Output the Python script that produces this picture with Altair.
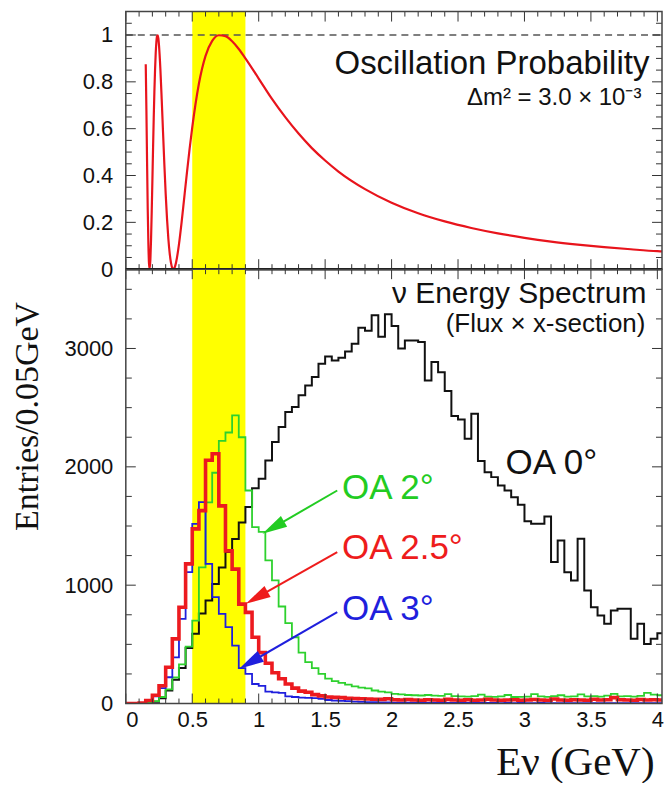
import math
import altair as alt
import pandas as pd

# ---------------- data ----------------
E_LO = [round(0.05 * i, 2) for i in range(81)]   # bin lower edges (GeV)
E_END = 4.05

OA0 = [0, 0, 0, 5, 15, 45, 110, 200, 300, 470,
       590, 760, 870, 1010, 1150, 1280, 1390, 1530, 1660, 1820,
       1899, 2054, 2209, 2336, 2463, 2505, 2604, 2688, 2759, 2871,
       2933, 2899, 2922, 2975, 3040, 3176, 3150, 3280, 3100, 3290,
       3190, 3000, 3068, 3068, 3054, 2730, 2885, 2800, 2640, 2430,
       2400, 2237, 2449, 2050, 1955, 1913, 1843, 1800, 1744, 1680,
       1540, 1519, 1519, 1581, 1195, 1378, 1110, 1040, 1392, 955,
       814, 744, 674, 786, 800, 800, 547, 674, 504, 547,
       594]
OA2 = [0, 0, 0, 5, 20, 55, 120, 220, 330, 480,
       700, 1150, 1700, 1950, 2220, 2290, 2434, 2250, 1800, 1490,
       1450, 1210, 1040, 820, 680, 560, 430, 350, 300, 250,
       210, 190, 175, 160, 145, 135, 128, 110, 100, 95,
       82, 78, 72, 70, 68, 72, 66, 64, 80, 62,
       60, 58, 62, 75, 58, 56, 60, 72, 55, 56,
       58, 80, 60, 56, 62, 70, 58, 60, 78, 60,
       62, 58, 66, 82, 60, 62, 58, 64, 90, 75,
       70]
OA25 = [0, 0, 5, 25, 70, 150, 307, 546, 814, 1180,
        1476, 1630, 2055, 2110, 1670, 1290, 1136, 840, 770, 560,
        430, 340, 260, 210, 165, 130, 105, 95, 75, 65,
        55, 52, 50, 45, 42, 40, 38, 36, 35, 40,
        32, 30, 34, 30, 28, 32, 30, 28, 35, 30,
        28, 32, 28, 30, 36, 30, 28, 30, 32, 28,
        30, 34, 30, 28, 38, 30, 28, 32, 30, 28,
        36, 30, 32, 50, 32, 30, 28, 34, 30, 32,
        30]
OA3 = [0, 0, 5, 20, 60, 130, 222, 390, 715, 1110,
       1518, 1701, 1180, 899, 758, 645, 490, 300, 250, 165,
       150, 100, 95, 90, 60, 55, 50, 48, 45, 40,
       30, 25, 22, 20, 16, 14, 12, 11, 10, 9,
       8, 8, 7, 8, 7, 6, 7, 6, 6, 5,
       6, 5, 5, 6, 5, 5, 4, 5, 4, 5,
       4, 4, 5, 4, 4, 3, 4, 4, 3, 4,
       3, 4, 3, 3, 4, 3, 3, 3, 4, 3,
       3]

OSC_E = [0.150, 0.155, 0.160, 0.165, 0.170, 0.175, 0.180, 0.185, 0.190, 0.195,
         0.200, 0.205, 0.210, 0.215, 0.220, 0.225, 0.230, 0.235, 0.240, 0.245,
         0.250, 0.260, 0.270, 0.280, 0.290, 0.300, 0.310, 0.320, 0.330, 0.340,
         0.350, 0.360, 0.370, 0.380, 0.400, 0.420, 0.440, 0.460, 0.480, 0.500,
         0.550, 0.600, 0.650, 0.700, 0.750, 0.800, 0.850, 0.900, 1.000, 1.100,
         1.200, 1.300, 1.400, 1.500, 1.600, 1.800, 2.000, 2.200, 2.400, 2.600,
         2.800, 3.000, 3.200, 3.400, 3.600, 3.800, 4.000, 4.035]
OSC_P = [0.875, 0.679, 0.457, 0.255, 0.104, 0.020, 0.002, 0.042, 0.129, 0.246,
         0.379, 0.515, 0.643, 0.757, 0.850, 0.922, 0.970, 0.995, 0.999, 0.985,
         0.954, 0.856, 0.727, 0.587, 0.448, 0.322, 0.216, 0.131, 0.069, 0.027,
         0.005, 0.000, 0.011, 0.034, 0.106, 0.201, 0.307, 0.412, 0.514, 0.606,
         0.792, 0.911, 0.975, 0.999, 0.995, 0.973, 0.940, 0.900, 0.814, 0.727,
         0.649, 0.579, 0.517, 0.464, 0.417, 0.342, 0.284, 0.239, 0.204, 0.176,
         0.153, 0.134, 0.118, 0.105, 0.094, 0.085, 0.077, 0.076]

BAND_LO = [0.5]
BAND_HI = [0.9]

X_MAJOR = [0, 0.5, 1, 1.5, 2, 2.5, 3, 3.5, 4]
X_MINOR = [round(0.1 * i, 1) for i in range(41) if i % 5]
YT_LABELS = [0, 0.2, 0.4, 0.6, 0.8, 1.0]
YT_MINOR = [round(0.05 * i, 2) for i in range(1, 22) if i % 4]
YB_LABELS = [0, 1000, 2000, 3000]
YB_MINOR = [250 * i for i in range(1, 15) if i % 4]

OA_TEXT = ["OA 0°", "OA 2°", "OA 2.5°", "OA 3°"]
OA_COLOR = ["#111111", "#22cc22", "#ee1c1c", "#1f1fdd"]
OA_TEXT_E = [2.858, 1.627, 1.627, 1.627]
OA_TEXT_C = [1942, 1730, 1223, 702]

ARROW_COLOR = ["#22cc22", "#ee1c1c", "#1f1fdd"]
ARROW_E0 = [1.591, 1.591, 1.591]
ARROW_C0 = [1800, 1279, 772]
ARROW_E1 = [1.028, 0.903, 0.853]
ARROW_C1 = [1434, 843, 293]

# ---------------- layout ----------------
W = 537
H_TOP = 258
H_BOT = 435
X_DOM = [0, 4.035]
YT_DOM = [0, 1.1]
YB_DOM = [0, 3670]
SANS = "Liberation Sans"
SERIF = "Liberation Serif"
TICK_C = "#333333"
LBL = 22

xs = alt.Scale(domain=X_DOM, nice=False, zero=False)
yts = alt.Scale(domain=YT_DOM, nice=False, zero=False)
ybs = alt.Scale(domain=YB_DOM, nice=False, zero=False)
dummy = pd.DataFrame({"a": [0]})

yaxis_t = alt.Axis(values=YT_LABELS, format="~g", tickSize=0, domain=False, grid=False,
                   labelPadding=13, labelFontSize=LBL, labelFont=SANS, labelColor="#111111", title=None)
xaxis_b = alt.Axis(values=X_MAJOR, format="~g", tickSize=0, domain=False, grid=False, labelPadding=6,
                   labelFontSize=LBL, labelFont=SANS, labelColor="#111111",
                   title="Eν (GeV)", titleFont=SERIF, titleFontSize=41, titleFontWeight="normal",
                   titleColor="#111111", titleX=529, titleY=71, titleAlign="right", titleBaseline="alphabetic")
yaxis_b = alt.Axis(values=YB_LABELS, format="d", tickSize=0, domain=False, grid=False, labelPadding=13,
                   labelFontSize=LBL, labelFont=SANS, labelColor="#111111",
                   title="Entries/0.05GeV", titleFont=SERIF, titleFontSize=34, titleFontWeight="normal",
                   titleColor="#111111", titleX=-98, titleY=147, titleAngle=270, titleAlign="center",
                   titleBaseline="middle")


def X(field, xaxis):
    return alt.X(field, scale=xs, axis=xaxis)


def tick_layers(yvals_major, yvals_minor, yscale, yaxis, xaxis, hpx):
    layers = []
    for vals, ln in [(X_MAJOR, 10), (X_MINOR, 5)]:
        base = alt.Chart(pd.DataFrame({"v": vals})).mark_rule(color=TICK_C, strokeWidth=1)
        layers.append(base.encode(x=X("v:Q", xaxis), y=alt.value(0), y2=alt.value(ln)))
        layers.append(base.encode(x=X("v:Q", xaxis), y=alt.value(hpx), y2=alt.value(hpx - ln)))
    for vals, ln in [(yvals_major, 10), (yvals_minor, 6)]:
        base = alt.Chart(pd.DataFrame({"v": vals})).mark_rule(color=TICK_C, strokeWidth=1)
        layers.append(base.encode(y=alt.Y("v:Q", scale=yscale, axis=yaxis), x=alt.value(0), x2=alt.value(ln)))
        layers.append(base.encode(y=alt.Y("v:Q", scale=yscale, axis=yaxis), x=alt.value(W), x2=alt.value(W - ln)))
    return layers


def band(hpx, xaxis):
    return alt.Chart(pd.DataFrame({"lo": BAND_LO, "hi": BAND_HI})).mark_rect(color="#ffff00").encode(
        x=X("lo:Q", xaxis), x2="hi:Q", y=alt.value(0), y2=alt.value(hpx))


def frame(hpx):
    return alt.Chart(dummy).mark_rect(fillOpacity=0, stroke="#444444", strokeWidth=1.5).encode(
        x=alt.value(0), x2=alt.value(W), y=alt.value(0), y2=alt.value(hpx))


# ---------------- top panel ----------------
osc_df = pd.DataFrame({"E": OSC_E, "P": OSC_P})
osc = alt.Chart(osc_df).mark_line(color="#e8141c", strokeWidth=2.2, interpolate="monotone", clip=True).encode(
    x=X("E:Q", None), y=alt.Y("P:Q", scale=yts, axis=yaxis_t))
dashed = alt.Chart(pd.DataFrame({"p": [1.0]})).mark_rule(color="#555555", strokeWidth=1.3, strokeDash=[7, 5]).encode(
    y=alt.Y("p:Q", scale=yts, axis=yaxis_t), x=alt.value(0), x2=alt.value(W))

top_txt1 = alt.Chart(pd.DataFrame({"t": ["Oscillation Probability"], "E": [3.94], "P": [0.835]})).mark_text(
    align="right", baseline="alphabetic", font=SANS, fontSize=33, color="#111111").encode(
    x=X("E:Q", None), y=alt.Y("P:Q", scale=yts, axis=yaxis_t), text="t:N")
top_txt2 = alt.Chart(pd.DataFrame({"t": ["Δm² = 3.0 × 10⁻³"], "E": [3.88], "P": [0.703]})).mark_text(
    align="right", baseline="alphabetic", font=SANS, fontSize=24, color="#111111").encode(
    x=X("E:Q", None), y=alt.Y("P:Q", scale=yts, axis=yaxis_t), text="t:N")

thick = alt.Chart(dummy).mark_rule(color="black", strokeWidth=2.5).encode(
    x=alt.value(0), x2=alt.value(W), y=alt.value(H_TOP))

top = alt.layer(band(H_TOP, None), dashed, osc, top_txt1, top_txt2,
                *tick_layers(YT_LABELS, YT_MINOR, yts, yaxis_t, None, H_TOP),
                frame(H_TOP), thick).properties(width=W, height=H_TOP)


# ---------------- bottom panel ----------------
def hist_df(vals):
    return pd.DataFrame({"E": E_LO + [E_END], "N": vals + [vals[-1]]})


def YB(field):
    return alt.Y(field, scale=ybs, axis=yaxis_b)


def hist(vals, color, sw):
    return alt.Chart(hist_df(vals)).mark_line(color=color, strokeWidth=sw, interpolate="step-after",
                                              clip=True).encode(x=X("E:Q", xaxis_b), y=YB("N:Q"))


h0 = hist(OA0, "#111111", 2.0)
h2 = hist(OA2, "#2ed12e", 1.8)
h3 = hist(OA3, "#1f1fdd", 1.8)
h25 = hist(OA25, "#ec1a1f", 3.6)

# arrows
pxE = W / (X_DOM[1] - X_DOM[0])
pxC = H_BOT / (YB_DOM[1] - YB_DOM[0])
HEAD = 25.0
rows = []
for e0, c0, e1, c1, col in zip(ARROW_E0, ARROW_C0, ARROW_E1, ARROW_C1, ARROW_COLOR):
    dx = (e1 - e0) * pxE
    dy = -(c1 - c0) * pxC
    ln = math.hypot(dx, dy)
    ux, uy = dx / ln, dy / ln
    hx = e1 - ux * (HEAD / 2) / pxE
    hy = c1 + uy * (HEAD / 2) / pxC
    ang = math.degrees(math.atan2(dx, -dy)) % 360
    rows.append({"e0": e0, "c0": c0, "e1": hx, "c1": hy, "ang": ang, "col": col})
arrow_df = pd.DataFrame(rows)
arrow_lines = alt.Chart(arrow_df).mark_rule(strokeWidth=2).encode(
    x=X("e0:Q", xaxis_b), y=YB("c0:Q"),
    x2="e1:Q", y2="c1:Q", color=alt.Color("col:N", scale=None))
arrow_heads = alt.Chart(arrow_df).mark_point(shape="M0,-1L0.5,1L-0.5,1Z", filled=True, size=HEAD * HEAD,
                                             opacity=1, strokeWidth=0).encode(
    x=X("e1:Q", xaxis_b), y=YB("c1:Q"),
    angle=alt.Angle("ang:Q", scale=None), color=alt.Color("col:N", scale=None))

oa_df = pd.DataFrame({"t": OA_TEXT, "E": OA_TEXT_E, "C": OA_TEXT_C, "col": OA_COLOR})
oa_txt = alt.Chart(oa_df).mark_text(align="left", baseline="alphabetic", font=SANS, fontSize=35).encode(
    x=X("E:Q", xaxis_b), y=YB("C:Q"), text="t:N", color=alt.Color("col:N", scale=None))

b_txt1 = alt.Chart(pd.DataFrame({"t": ["ν Energy Spectrum"], "E": [3.918], "C": [3381]})).mark_text(
    align="right", baseline="alphabetic", font=SANS, fontSize=30, color="#111111").encode(
    x=X("E:Q", xaxis_b), y=YB("C:Q"), text="t:N")
b_txt2 = alt.Chart(pd.DataFrame({"t": ["(Flux × x-section)"], "E": [3.91], "C": [3136]})).mark_text(
    align="right", baseline="alphabetic", font=SANS, fontSize=26, color="#111111").encode(
    x=X("E:Q", xaxis_b), y=YB("C:Q"), text="t:N")

bottom = alt.layer(band(H_BOT, xaxis_b), h0, h2, h3, h25, arrow_lines, arrow_heads, oa_txt, b_txt1, b_txt2,
                   *tick_layers(YB_LABELS, YB_MINOR, ybs, yaxis_b, xaxis_b, H_BOT),
                   frame(H_BOT)).properties(width=W, height=H_BOT)

chart = alt.vconcat(top, bottom, spacing=0, bounds="flush").properties(
    padding={"left": 11, "top": 10, "right": 1, "bottom": 0},
    background="white",
).configure_view(stroke=None)

chart.save("out.html", embed_options={"renderer": "svg", "actions": False})
